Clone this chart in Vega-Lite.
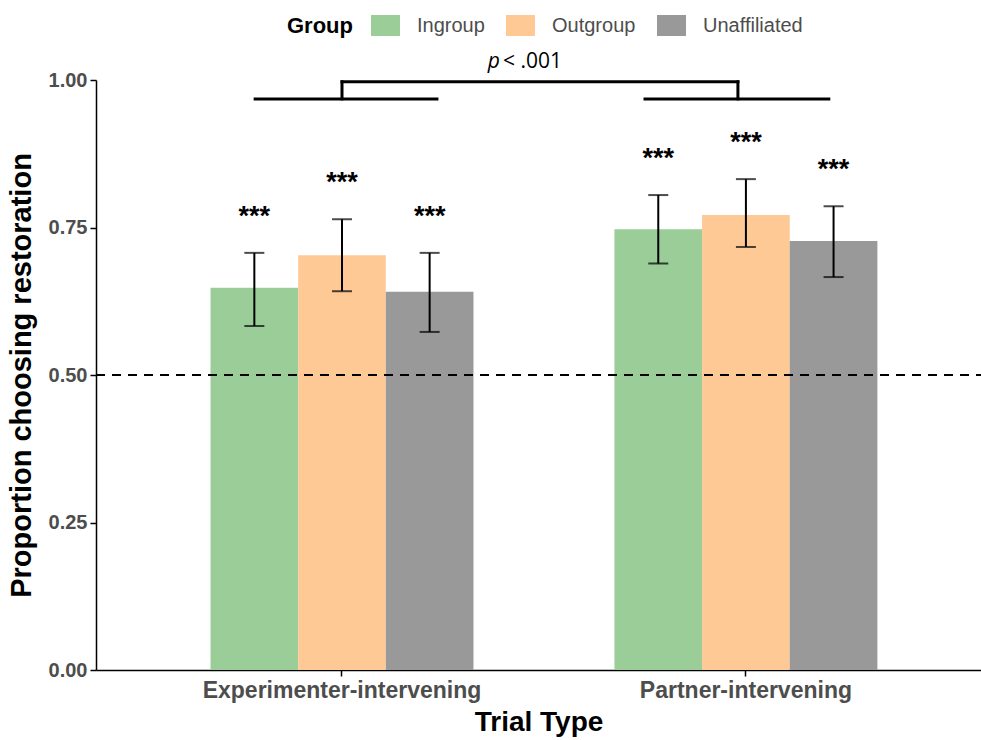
{
  "$schema": "https://vega.github.io/schema/vega-lite/v6.json",
  "width": 885,
  "height": 590,
  "autosize": {"type": "none"},
  "padding": {"top": 80, "left": 96, "right": 0, "bottom": 70},
  "background": "white",
  "config": {
    "view": {"stroke": null},
    "font": "Liberation Sans",
    "axis": {"grid": false, "domainColor": "black", "domainWidth": 1.5, "tickColor": "black", "tickWidth": 1.5, "tickSize": 6, "labelFontWeight": "bold", "labelColor": "#4d4d4d", "titleFontWeight": "bold", "titleColor": "black", "labelLimit": 0}
  },
  "datasets": {
    "bars": [
      {"Trial": "Experimenter-intervening", "Group": "Ingroup", "p": 0.648, "lo": 0.583, "hi": 0.707, "sig": "***"},
      {"Trial": "Experimenter-intervening", "Group": "Outgroup", "p": 0.703, "lo": 0.642, "hi": 0.764, "sig": "***"},
      {"Trial": "Experimenter-intervening", "Group": "Unaffiliated", "p": 0.641, "lo": 0.573, "hi": 0.707, "sig": "***"},
      {"Trial": "Partner-intervening", "Group": "Ingroup", "p": 0.747, "lo": 0.689, "hi": 0.805, "sig": "***"},
      {"Trial": "Partner-intervening", "Group": "Outgroup", "p": 0.771, "lo": 0.717, "hi": 0.832, "sig": "***"},
      {"Trial": "Partner-intervening", "Group": "Unaffiliated", "p": 0.727, "lo": 0.666, "hi": 0.786, "sig": "***"}
    ],
    "segs": [
      {"x": 0.785, "x2": 1.235, "y": 0.968, "y2": 0.968},
      {"x": 1.75, "x2": 2.205, "y": 0.968, "y2": 0.968},
      {"x": 1.0, "x2": 1.0, "y": 0.968, "y2": 0.997},
      {"x": 1.0, "x2": 1.98, "y": 0.997, "y2": 0.997},
      {"x": 1.98, "x2": 1.98, "y": 0.968, "y2": 0.997}
    ],
    "ptext": [{"x": 1.453, "y": 1.03}]
  },
  "resolve": {"scale": {"x": "independent"}, "axis": {"x": "independent"}},
  "layer": [
    {
      "data": {"name": "bars"},
      "encoding": {
        "x": {"field": "Trial", "type": "nominal", "sort": null,
              "scale": {"paddingInner": 0.349, "paddingOuter": 0.27, "align": 0.525},
              "axis": {"title": "Trial Type", "labelAngle": 0, "labelFontSize": 23, "titleFontSize": 28, "labelPadding": 3, "titlePadding": 6}},
        "xOffset": {"field": "Group", "type": "nominal", "scale": {"paddingInner": 0, "paddingOuter": 0}}
      },
      "layer": [
        {
          "mark": {"type": "bar", "opacity": 1},
          "encoding": {
            "y": {"field": "p", "type": "quantitative", "scale": {"domain": [0, 1], "nice": false},
                  "axis": {"title": "Proportion choosing restoration", "values": [0, 0.25, 0.5, 0.75, 1], "format": ".2f", "labelFontSize": 20, "titleFontSize": 29, "labelPadding": 3, "titlePadding": 12}},
            "color": {"field": "Group", "type": "nominal",
                      "scale": {"domain": ["Ingroup", "Outgroup", "Unaffiliated"], "range": ["#9acd98", "#fec995", "#999999"]},
                      "legend": {"orient": "none", "legendX": 191, "legendY": -65, "direction": "horizontal", "title": "Group", "titleOrient": "left", "titleFontSize": 22, "titleFontWeight": "bold", "titleColor": "black", "titlePadding": 22, "symbolType": "M-1.38,-1H1.38V1H-1.38Z", "symbolSize": 441, "symbolStrokeWidth": 0, "symbolOpacity": 1, "labelFontSize": 20, "labelColor": "#4d4d4d", "labelOffset": 21, "columnPadding": 21, "titleBaseline": "middle"}}
          }
        },
        {
          "mark": {"type": "rule", "color": "black", "strokeWidth": 2},
          "encoding": {
            "y": {"field": "lo", "type": "quantitative"},
            "y2": {"field": "hi"}
          }
        },
        {
          "mark": {"type": "tick", "color": "black", "thickness": 2, "size": 20, "orient": "horizontal"},
          "encoding": {"y": {"field": "lo", "type": "quantitative"}}
        },
        {
          "mark": {"type": "tick", "color": "black", "thickness": 2, "size": 20, "orient": "horizontal"},
          "encoding": {"y": {"field": "hi", "type": "quantitative"}}
        },
        {
          "mark": {"type": "text", "color": "black", "fontSize": 27, "fontWeight": "bold", "baseline": "middle", "dy": -36},
          "encoding": {
            "y": {"field": "hi", "type": "quantitative"},
            "text": {"field": "sig"}
          }
        }
      ]
    },
    {
      "data": {"name": "segs"},
      "encoding": {
        "x": {"field": "x", "type": "quantitative", "scale": {"domain": [0.3911, 2.5817], "nice": false, "zero": false}, "axis": null}
      },
      "layer": [
        {
          "mark": {"type": "rule", "color": "black", "strokeWidth": 2, "strokeDash": [9, 7]},
          "encoding": {"y": {"datum": 0.5}, "x": {"value": 0}, "x2": {"value": 885}}
        },
        {
          "mark": {"type": "rule", "color": "black", "strokeWidth": 3, "strokeCap": "square"},
          "encoding": {
            "x2": {"field": "x2"},
            "y": {"field": "y", "type": "quantitative"},
            "y2": {"field": "y2"}
          }
        },
        {
          "data": {"name": "ptext"},
          "mark": {"type": "text", "text": "p", "fontStyle": "italic", "fontSize": 21, "align": "right", "baseline": "middle", "dx": -25, "font": "Open Sans"},
          "encoding": {"y": {"field": "y", "type": "quantitative"}}
        },
        {
          "data": {"name": "ptext"},
          "mark": {"type": "text", "text": "< .001", "fontSize": 21, "align": "left", "baseline": "middle", "dx": -22, "font": "Open Sans"},
          "encoding": {"y": {"field": "y", "type": "quantitative"}}
        }
      ]
    }
  ]
}
